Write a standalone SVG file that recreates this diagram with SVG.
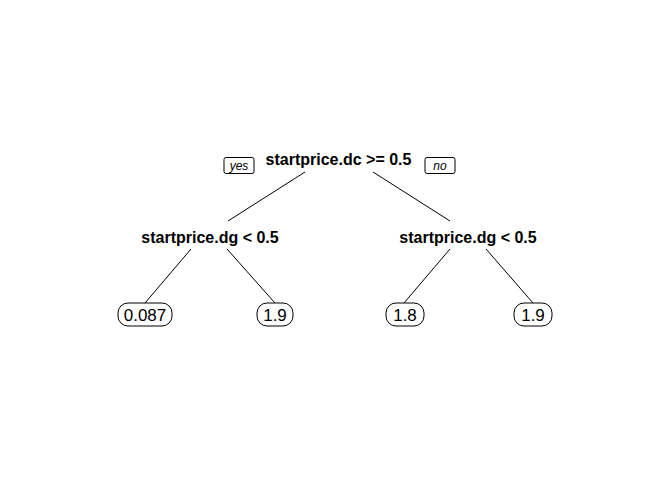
<svg xmlns="http://www.w3.org/2000/svg" width="672" height="480" viewBox="0 0 672 480">
<style>
.split{font-family:"Liberation Sans",Arial,sans-serif;font-weight:bold;font-size:16px;text-anchor:middle;fill:#000}
.leaf{font-family:"Liberation Sans",Arial,sans-serif;font-size:17px;text-anchor:middle;fill:#000}
.lab{font-family:"Liberation Sans",Arial,sans-serif;font-style:italic;font-size:12px;text-anchor:middle;fill:#000}
.box{fill:#fff;stroke:#000;stroke-width:1}
.edge{stroke:#000;stroke-width:1;fill:none}
</style>
<rect width="672" height="480" fill="#fff"/>
<g id="connectors">
<line class="edge" x1="305" y1="172" x2="228" y2="221"/>
<line class="edge" x1="373" y1="172" x2="450" y2="221"/>
<line class="edge" x1="191" y1="249" x2="145" y2="303"/>
<line class="edge" x1="227" y1="249" x2="275" y2="303"/>
<line class="edge" x1="450" y1="249" x2="404" y2="303"/>
<line class="edge" x1="486" y1="249" x2="533" y2="303"/>
</g>
<g id="label-yes">
<rect class="box" x="224" y="157.5" width="30" height="16" rx="2"/>
<text class="lab" x="239" y="170">yes</text>
</g>
<g id="label-no">
<rect class="box" x="425" y="157.5" width="30" height="16" rx="2"/>
<text class="lab" x="440" y="170">no</text>
</g>
<g id="node-root">
<text class="split" x="338.5" y="165">startprice.dc &gt;= 0.5</text>
</g>
<g id="node-left">
<text class="split" x="210" y="243">startprice.dg &lt; 0.5</text>
</g>
<g id="node-right">
<text class="split" x="468" y="243">startprice.dg &lt; 0.5</text>
</g>
<g id="leaf-1">
<rect class="box" x="118" y="303" width="54" height="23" rx="10"/>
<text class="leaf" x="145" y="320.5">0.087</text>
</g>
<g id="leaf-2">
<rect class="box" x="257" y="303" width="36" height="23" rx="10"/>
<text class="leaf" x="275" y="320.5">1.9</text>
</g>
<g id="leaf-3">
<rect class="box" x="386" y="303" width="38" height="23" rx="10"/>
<text class="leaf" x="405" y="320.5">1.8</text>
</g>
<g id="leaf-4">
<rect class="box" x="514" y="303" width="38" height="23" rx="10"/>
<text class="leaf" x="533" y="320.5">1.9</text>
</g>
</svg>
